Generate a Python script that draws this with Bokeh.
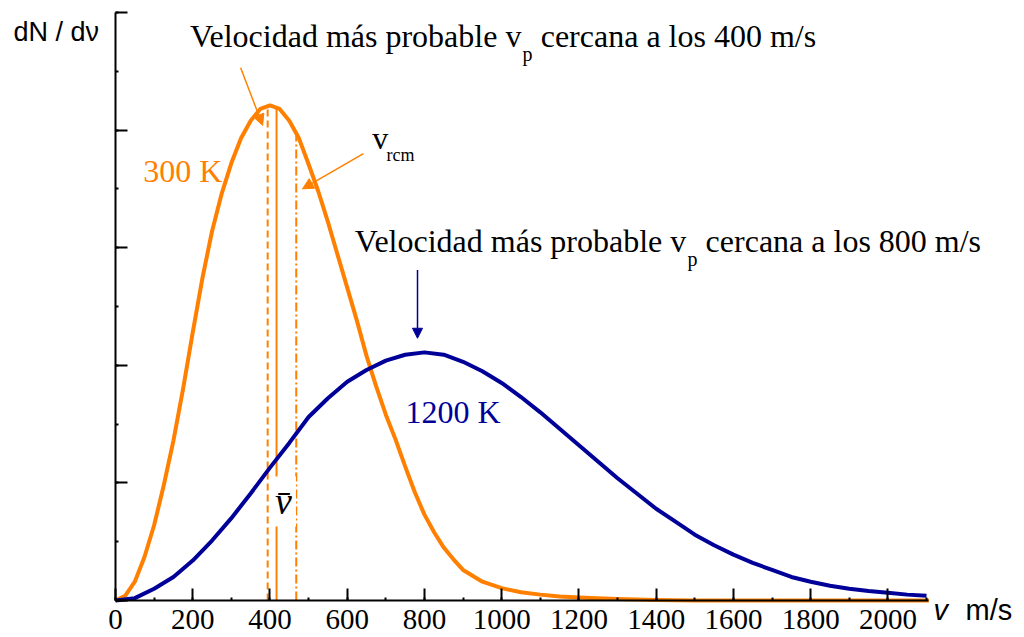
import numpy as np
from bokeh.plotting import figure
from bokeh.models import Label, Arrow, NormalHead, SingleIntervalTicker, Range1d
from bokeh.embed import file_html
from bokeh.resources import INLINE

# Maxwell speed distributions (arbitrary units of dN/dv)
speed_300 = [0, 25, 50, 75, 100, 125, 150, 175, 200, 225, 250, 275, 300, 325, 350, 375, 400,
             425, 450, 475, 500, 525, 550, 575, 600, 625, 650, 675, 700, 725, 750, 775, 800,
             825, 850, 875, 900, 950, 1000, 1050, 1100, 1150, 1200, 1300, 1400, 1500, 2106]
dist_300 = [0, 0.04, 0.16, 0.37, 0.64, 0.98, 1.36, 1.80, 2.28, 2.74, 3.14, 3.46, 3.72, 3.93, 4.08, 4.18, 4.21,
            4.18, 4.08, 3.93, 3.71, 3.48, 3.22, 2.94, 2.66, 2.38, 2.08, 1.82, 1.58, 1.37, 1.14, 0.92, 0.73,
            0.58, 0.45, 0.35, 0.26, 0.16, 0.105, 0.07, 0.05, 0.035, 0.025, 0.012, 0.005, 0.0, 0.0]

speed_1200 = [0, 50, 100, 150, 200, 250, 300, 350, 400, 450, 500, 550, 600, 650, 700, 750, 800,
              850, 900, 950, 1000, 1050, 1100, 1150, 1200, 1250, 1300, 1350, 1400, 1450, 1500,
              1550, 1600, 1650, 1700, 1750, 1800, 1850, 1900, 1950, 2000, 2050, 2100]
dist_1200 = [0, 0.02, 0.10, 0.20, 0.34, 0.51, 0.70, 0.91, 1.13, 1.34, 1.56, 1.72, 1.86, 1.96, 2.04, 2.09, 2.11,
             2.09, 2.03, 1.95, 1.85, 1.73, 1.60, 1.46, 1.32, 1.18, 1.04, 0.91, 0.78, 0.67, 0.56,
             0.47, 0.39, 0.32, 0.26, 0.20, 0.16, 0.125, 0.10, 0.08, 0.065, 0.05, 0.04]

# characteristic speeds at 300 K: most probable, mean, root-mean-square
v_p_300, v_mean_300, v_rms_300 = 394, 417, 468
v_p_1200 = 782
x_axis_end, y_axis_end = 2106, 5

ORANGE = "#FF8000"
BLUE = "#000099"
SERIF = "Liberation Serif"
SANS = "Liberation Sans"

# frame covers the whole canvas; axes are pinned at the data origin
p = figure(width=1024, height=637, output_backend="svg", toolbar_location=None,
           x_range=Range1d(-297.77, 2353.7), y_range=Range1d(-0.3146, 5.102),
           min_border=0)
p.grid.visible = False
p.outline_line_color = None
p.background_fill_color = "white"
p.border_fill_color = "white"

xa = p.xaxis[0]
xa.fixed_location = 0
xa.bounds = (0, x_axis_end)
xa.ticker = SingleIntervalTicker(interval=200, num_minor_ticks=2)
xa.axis_line_width = 2
xa.major_tick_line_width = 2
xa.minor_tick_line_width = 2
xa.major_tick_in = 12
xa.major_tick_out = 0
xa.minor_tick_in = 3
xa.minor_tick_out = 0
xa.major_label_text_font = SERIF
xa.major_label_text_font_size = "29px"
xa.major_label_text_color = "black"
xa.major_label_standoff = 9

ya = p.yaxis[0]
ya.fixed_location = 0
ya.bounds = (0, y_axis_end)
ya.ticker = SingleIntervalTicker(interval=1, num_minor_ticks=2)
ya.axis_line_width = 2
ya.major_tick_line_width = 2
ya.minor_tick_line_width = 2
ya.major_tick_in = 12
ya.major_tick_out = 0
ya.minor_tick_in = 3
ya.minor_tick_out = 0
ya.major_label_text_font_size = "0px"
ya.major_label_text_color = None

# characteristic speed lines (up to the 300 K curve)
h = np.interp([v_p_300, v_mean_300, v_rms_300], speed_300, dist_300)
p.segment(x0=[v_p_300], y0=[0], x1=[v_p_300], y1=[h[0]], line_color=ORANGE, line_width=2, line_dash="7 4")
p.segment(x0=[v_mean_300], y0=[0], x1=[v_mean_300], y1=[h[1]], line_color=ORANGE, line_width=2)
p.segment(x0=[v_rms_300], y0=[0], x1=[v_rms_300], y1=[h[2]], line_color=ORANGE, line_width=2, line_dash="9 3 2 3")

# curves
p.line(speed_300, dist_300, line_color=ORANGE, line_width=4, line_join="round")
p.line(speed_1200, dist_1200, line_color=BLUE, line_width=4, line_join="round")


def lab(x, y, text, color="black", size="32px", font=SERIF, align="left", style="normal", **kw):
    p.add_layout(Label(x=x, y=y, text=text, text_color=color, text_font=font,
                       text_font_size=size, text_align=align, text_baseline="alphabetic",
                       text_font_style=style, **kw))


# top annotation (300 K)
lab(1051, 4.796, "Velocidad más probable v", align="right")
lab(1054, 4.646, "p", size="20px")
lab(1101, 4.796, "cercana a los 400 m/s")
# middle annotation (1200 K)
lab(1478, 3.053, "Velocidad más probable v", align="right")
lab(1481, 2.903, "p", size="20px")
lab(1528, 3.053, "cercana a los 800 m/s")

lab(72, 3.648, "300 K", color=ORANGE)
lab(751, 1.599, "1200 K", color=BLUE)
lab(665, 3.929, "v")
lab(702, 3.790, "rcm", size="18px")
lab(435, 0.842, "v\u0304", size="38px", align="center", style="italic",
    background_fill_color="white", padding=4)

lab(-264, 4.830, "dN / d\u03bd", size="27px", font=SANS)
lab(2118, -0.079, "v", size="29px", font=SANS, style="italic")
lab(2201, -0.079, "m/s", size="29px", font=SANS)

# arrows
p.add_layout(Arrow(end=NormalHead(size=11, fill_color=ORANGE, line_color=ORANGE),
                   x_start=324, y_start=4.53, x_end=381, y_end=4.04,
                   line_color=ORANGE, line_width=1.5))
p.add_layout(Arrow(end=NormalHead(size=11, fill_color=ORANGE, line_color=ORANGE),
                   x_start=642, y_start=3.80, x_end=484, y_end=3.50,
                   line_color=ORANGE, line_width=1.5))
p.add_layout(Arrow(end=NormalHead(size=10, fill_color=BLUE, line_color=BLUE),
                   x_start=v_p_1200, y_start=2.81, x_end=v_p_1200, y_end=2.23,
                   line_color=BLUE, line_width=1.5))

open("out.html", "w").write(file_html(p, INLINE))
